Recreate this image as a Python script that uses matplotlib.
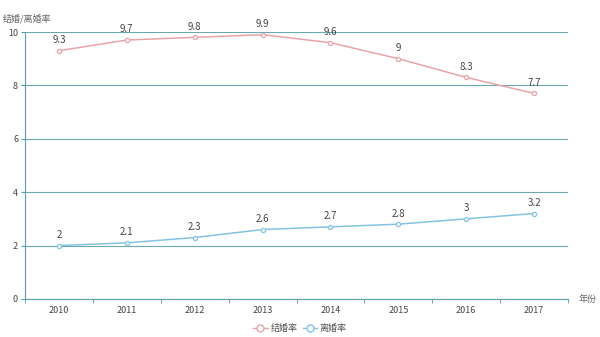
import matplotlib.pyplot as plt
from matplotlib.lines import Line2D

plt.rcParams['font.family'] = ['Noto Sans CJK SC', 'DejaVu Sans']

years = ['2010', '2011', '2012', '2013', '2014', '2015', '2016', '2017']
marriage = [9.3, 9.7, 9.8, 9.9, 9.6, 9, 8.3, 7.7]
divorce = [2, 2.1, 2.3, 2.6, 2.7, 2.8, 3, 3.2]

pink = '#e8a3aa'
blue = '#86c3e3'
axis_c = '#5a9ea6'
grid_c = '#6aa9ae'
text_c = '#444444'

fig = plt.figure(figsize=(6, 3.37), dpi=100)
ax = fig.add_axes([0.0417, 0.113, 0.905, 0.792])

x = list(range(len(years)))
ax.plot(x, marriage, color=pink, lw=1.1, marker='o', ms=3, mfc='white', mec=pink, mew=0.9)
ax.plot(x, divorce, color=blue, lw=1.1, marker='o', ms=3, mfc='white', mec=blue, mew=0.9)

for i, v in enumerate(marriage):
    ax.annotate(f'{v:g}', (i, v), xytext=(0, 4), textcoords='offset points',
                ha='center', va='bottom', fontsize=7, color=text_c)
for i, v in enumerate(divorce):
    ax.annotate(f'{v:g}', (i, v), xytext=(0, 4), textcoords='offset points',
                ha='center', va='bottom', fontsize=7, color=text_c)

ax.set_xlim(-0.5, len(years) - 0.5)
ax.set_ylim(0, 10)
ax.set_yticks([0, 2, 4, 6, 8, 10])
ax.set_xticks(x)
ax.set_xticklabels(years)
ax.set_xticks([i - 0.5 for i in range(len(years) + 1)], minor=True)
ax.tick_params(axis='x', which='major', length=0, labelsize=6.5, colors=text_c, pad=5)
ax.tick_params(axis='x', which='minor', length=3, color=axis_c)
ax.tick_params(axis='y', length=3, color=axis_c, labelsize=6.5, labelcolor=text_c, pad=2)

ax.grid(axis='y', color=grid_c, lw=0.8)
ax.set_axisbelow(True)
for s in ['top', 'right']:
    ax.spines[s].set_visible(False)
ax.spines['left'].set_color(axis_c)
ax.spines['bottom'].set_color(axis_c)

fig.text(0.005, 0.945, '结婚/离婚率', fontsize=6.5, color='#666666', ha='left', va='center')
fig.text(0.965, 0.11, '年份', fontsize=6.5, color='#666666', ha='left', va='center')

handles = [Line2D([], [], color=pink, lw=1, marker='o', ms=5, mfc='white', mec=pink),
           Line2D([], [], color=blue, lw=1, marker='o', ms=5, mfc='white', mec=blue)]
fig.legend(handles, ['结婚率', '离婚率'], loc='center', bbox_to_anchor=(0.5, 0.024),
           ncol=2, frameon=False, fontsize=6.5, handlelength=1.6, handletextpad=0.3,
           columnspacing=0.6, labelcolor='#555555')

fig.savefig('out.png', dpi=100)
